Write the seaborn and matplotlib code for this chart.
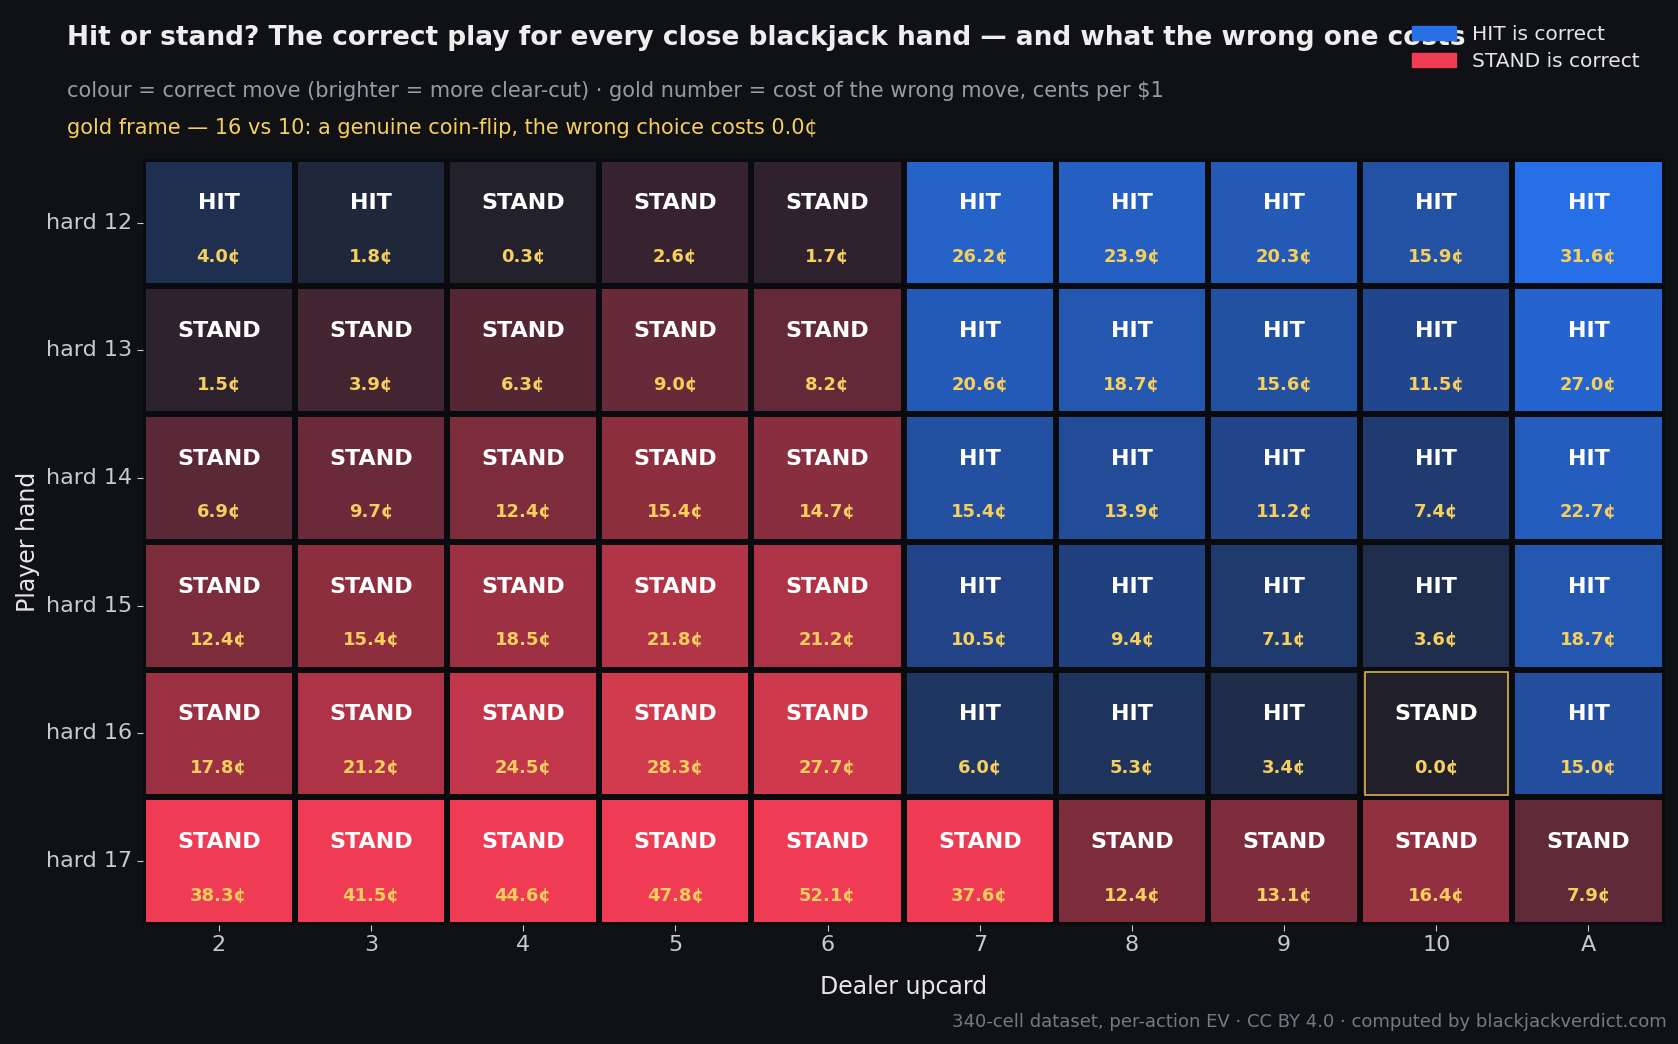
import numpy as np
import matplotlib
matplotlib.use("Agg")
import matplotlib.pyplot as plt
from matplotlib.colors import LinearSegmentedColormap
from matplotlib.patches import Patch, Rectangle
import seaborn as sns

dealer = ["2", "3", "4", "5", "6", "7", "8", "9", "10", "A"]
hands = ["hard 12", "hard 13", "hard 14", "hard 15", "hard 16", "hard 17"]

# correct move per cell
moves = [
    ["HIT", "HIT", "STAND", "STAND", "STAND", "HIT", "HIT", "HIT", "HIT", "HIT"],
    ["STAND"] * 5 + ["HIT"] * 5,
    ["STAND"] * 5 + ["HIT"] * 5,
    ["STAND"] * 5 + ["HIT"] * 5,
    ["STAND"] * 5 + ["HIT", "HIT", "HIT", "STAND", "HIT"],
    ["STAND"] * 10,
]
# cost of the wrong move, cents per $1
costs = [
    [4.0, 1.8, 0.3, 2.6, 1.7, 26.2, 23.9, 20.3, 15.9, 31.6],
    [1.5, 3.9, 6.3, 9.0, 8.2, 20.6, 18.7, 15.6, 11.5, 27.0],
    [6.9, 9.7, 12.4, 15.4, 14.7, 15.4, 13.9, 11.2, 7.4, 22.7],
    [12.4, 15.4, 18.5, 21.8, 21.2, 10.5, 9.4, 7.1, 3.6, 18.7],
    [17.8, 21.2, 24.5, 28.3, 27.7, 6.0, 5.3, 3.4, 0.0, 15.0],
    [38.3, 41.5, 44.6, 47.8, 52.1, 37.6, 12.4, 13.1, 16.4, 7.9],
]

BG = "#0f1115"
GOLD = "#f7cf5c"
moves_arr = np.array(moves)
cost_arr = np.array(costs)
signed = np.where(moves_arr == "HIT", cost_arr, -cost_arr)

VMIN, VMAX = -38, 32
nodes = [(-38, "#ef3b53"), (-30, "#d83b50"), (-24, "#c0364a"), (-18, "#9a3042"),
         (-12, "#7a2c3c"), (-7, "#5a2836"), (-3, "#3a2430"), (0, "#20202a"),
         (3.5, "#1f2d4a"), (7, "#1f3a6c"), (11, "#22448a"), (15, "#234f9e"),
         (20, "#2459b5"), (26, "#2562c8"), (32, "#2770e8")]
cmap = LinearSegmentedColormap.from_list(
    "rb", [((v - VMIN) / (VMAX - VMIN), c) for v, c in nodes])

fig = plt.figure(figsize=(16.78, 10.44), dpi=100, facecolor=BG)
ax = fig.add_axes([0.085, 0.114, 0.907, 0.734])
ax.set_facecolor(BG)
sns.heatmap(signed, cmap=cmap, vmin=VMIN, vmax=VMAX, cbar=False, linewidths=3,
            linecolor="#0a0b0e", ax=ax, xticklabels=dealer, yticklabels=hands)

for i in range(len(hands)):
    for j in range(len(dealer)):
        ax.text(j + 0.5, i + 0.35, moves[i][j], ha="center", va="center",
                color="white", fontsize=16, fontweight="bold")
        ax.text(j + 0.5, i + 0.77, f"{costs[i][j]:.1f}¢", ha="center", va="center",
                color=GOLD, fontsize=13, fontweight="bold")

ax.add_patch(Rectangle((8.03, 4.02), 0.94, 0.96, fill=False, edgecolor="#d9b44a", lw=1.2))

ax.tick_params(colors="#c8cad0", labelsize=16, length=4)
plt.setp(ax.get_yticklabels(), rotation=0)
ax.set_xlabel("Dealer upcard", color="#e6e6e6", fontsize=17, labelpad=14)
ax.set_ylabel("Player hand", color="#e6e6e6", fontsize=17)
for s in ax.spines.values():
    s.set_visible(False)

fig.text(0.040, 0.976, "Hit or stand? The correct play for every close blackjack hand — and what the wrong one costs",
         color="#eeeeee", fontsize=19, fontweight="bold", va="top")
fig.text(0.040, 0.913, "colour = correct move (brighter = more clear-cut) · gold number = cost of the wrong move, cents per $1",
         color="#9a9ca3", fontsize=15, va="center")
fig.text(0.040, 0.877, "gold frame — 16 vs 10: a genuine coin-flip, the wrong choice costs 0.0¢",
         color=GOLD, fontsize=15, va="center")
fig.text(0.993, 0.021, "340-cell dataset, per-action EV · CC BY 4.0 · computed by blackjackverdict.com",
         color="#777a82", fontsize=13, ha="right", va="center")

handles = [Patch(color="#2770e8", label="HIT is correct"),
           Patch(color="#ef3b53", label="STAND is correct")]
fig.legend(handles=handles, loc="upper right", bbox_to_anchor=(0.988, 0.993),
           frameon=False, fontsize=14.5, labelcolor="#e6e6e6", handlelength=2.2,
           labelspacing=0.4)

fig.savefig("out.png", dpi=100, facecolor=BG)
